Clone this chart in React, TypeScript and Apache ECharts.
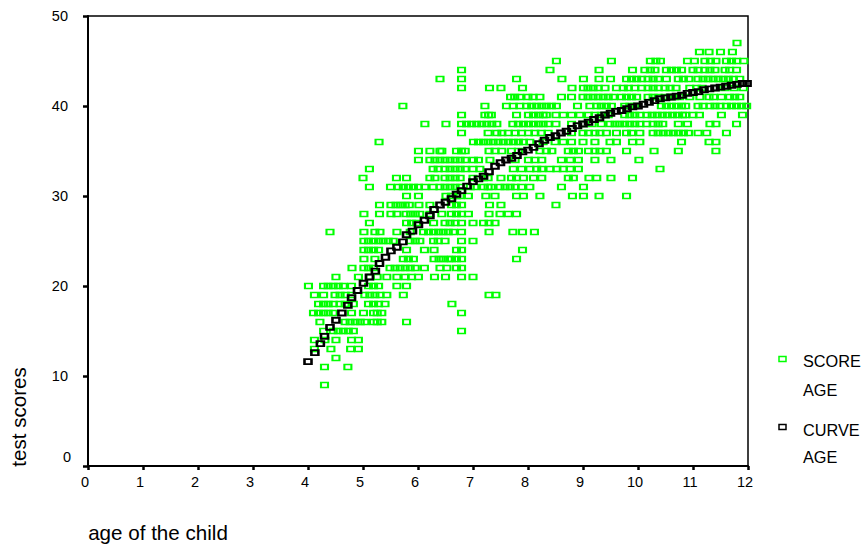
import React, { useEffect, useRef } from "react";
import * as echarts from "echarts";

// Ages in months for each integer test score
const s47 = [141.6];
const s46 = [133.4,135.5,138,140.6];
const s45 = [102.2,114.2,122.7,123.9,124.9,130.8,132.3,134.6,135.8,137,139.3,140.4,141.5,143.1];
const s44 = [81.5,100.8,111.5,118.8,121.5,122.7,123.7,126.2,127.3,128.4,129.5,132,133.1,134.6,135.7,136.8,139,140,141.5];
const s43 = [76.8,81.5,93.5,103.4,108.1,111.5,114,117.5,118.6,119.7,120.8,122.2,123.3,124.4,126.2,128.8,129.9,131.1,133.1,134.2,135.3,136.4,137.5,138.6,139.7,140.8,142.2];
const s42 = [81.5,87.6,90.1,94.8,105.6,108.1,109.1,110.2,111.3,112.8,115.3,116.8,117.9,119.3,120.8,122.2,123.3,124.4,125.9,127,128.3,131.3,132.8,134,137,139,141,143];
const s41 = [92.2,93.1,94.2,96,97.1,98.6,103.3,105.5,108,109.1,110.2,111.3,112.4,113.5,114.6,116.4,117.5,118.6,119.7,122.2,123.3,124.4,125.9,127,128,129.1,131.3,133.5,135.5,136.5,138.2,140,141.1,142.2];
const s40 = [68.7,86.6,91.3,92.8,94.2,95.7,96.8,97.9,99,100,101.1,102.2,106.8,109.5,111,112,113.1,114.2,117.1,118.2,119.3,125.1,126.2,127.3,128.4,129.5,130.4,133.1,134.2,135.7,136.8,137.9,139.3,140.4,141.5,142.6,143.7];
const s39 = [81.5,86.6,87.4,88,93.5,96.1,97.2,98.3,99.3,100,102.1,103.7,105.5,107.3,109.2,110.6,112,113.5,117.1,118.2,119.3,120.4,122,123.1,124.2,125.3,126.4,127.5,128.6,129.7,130.4,132,133.4,138.2,142.8];
const s38 = [73.5,78.1,81.5,82.6,83.7,84.8,85.9,87,88.1,89.2,92.7,93.9,95,96.1,97.2,98.3,99.3,100.4,102.1,105.5,108,110,112,113.9,115,116,117.1,118.2,119.3,120.4,121.9,123.3,124.4,125.4,128.8,130.8,135.7,137,141.5];
const s37 = [81.5,87.3,89.2,90.3,91.7,93.2,94.6,96.1,97.5,98.9,100.4,105.5,108,109.2,110.6,111.7,113.1,115.3,117.5,118.6,120.4,123.3,124.4,125.5,126.6,127.7,128.8,129.9,131,133.1,135,139.3];
const s36 = [63.5,84.1,85.2,86.3,87.3,88.4,89.5,90.6,91.7,92.8,93.9,95,96.4,99.3,101.9,103.7,105.5,108,110.6,113.9,115.3,118.8,120.4,129.5,135.5,137];
const s35 = [72.1,74.6,76.8,77.2,80.4,81.5,82.3,87.5,88.8,90.3,92.4,93.9,98.6,100,101.2,104.8,105.9,107,109.2,110.6,111.7,113.1,117.5,123.5,128.8,137];
const s34 = [72.1,74.6,75.7,76.8,77.9,79,80.1,81.2,82.3,84.1,85.2,87.7,93.2,96.1,97.5,99,103.3,105.2,107,110.6,114.1,120.2];
const s33 = [61.4,75.3,76.4,77.9,79,80.1,81.2,82.3,84,85.5,92.8,94.6,96.4,97.9,99,100.8,102.3,103.7,105.2,107,124.8];
const s32 = [60,67.3,69.5,74.6,75.7,77.9,79,80.1,81.2,84,86.3,87.3,90.1,92.4,93.5,95,97.2,99,104.8,105.9,109.3,111,114.1,118.8];
const s31 = [61.4,66,67.7,68.8,69.9,71,72.1,73.5,75.3,76.8,77.9,79,80.1,81.2,83.4,84.4,86.3,87.3,88,89.9,91,92.1,93.2,94.6,96.4,103.3,108.1];
const s30 = [69.5,72.1,78.1,79.3,80.4,81.2,83,86.8,88.8,93.5,95,98.6,105.7,108.1,111.5,117.5];
const s29 = [63.6,66.1,67.2,68.2,69.2,70.1,72.2,74.6,79.3,80.4,81.5,87.6,90.1,102.1];
const s28 = [60.2,63.6,66.1,67.4,69.4,70.4,71.4,72.4,74.6,77.2,79.3,80.4,81.5,83,87.5,89.9,91.7,93.5];
const s27 = [61.4,69.5,70.6,71.7,75.4,77.9,79,80.1,81.5,84,86.3,87.5,88.8];
const s26 = [52.8,60.2,62.6,63.7,67.4,70.3,73.2,74.3,75.4,76.5,77.5,78.6,79.7,81.5,87.5,92.7,94.8,97.4];
const s25 = [60.2,61.2,62.3,63.4,64.4,65.5,66.6,70.3,71.4,72.4,75.4,76.4,77.9,81.5,84];
const s24 = [60.2,61.2,62.3,63.4,69.5,73.4,75.5,80.4,81.5,94.8];
const s23 = [60.2,62.6,68.8,69.9,71,75.5,76.6,77.5,78.6,79.3,80.4,81.5,93.5];
const s22 = [57.6,60.2,61.2,62.3,65.9,67,68.1,69.2,70.3,71.4,73.4,76.8,78.3,80.4,81.5];
const s21 = [54.1,59,61.5,63.1,65.2,67.4,69.2,70.6,72.1,75.6,78,81.5,84];
const s20 = [48.1,51.4,52.4,53.5,54.6,55.7,57.5,61.2,62.3,63.4,67.4,69.5];
const s19 = [49.4,51.4,53.9,55,56.1,57.5,60.4,61.5,62.6,63.7,65.2,68.8,87.5,89];
const s18 = [50.3,51.4,52.4,53.5,55,56.1,57.9,61.2,62.3,63.4,64.8,79.4];
const s17 = [49.2,50.3,51.4,52.4,53.5,57.5,60.1,62.3,63.1,64.1,81.5];
const s16 = [50.6,56.1,57.2,58.3,59.4,60.4,62.3,63.1,64.1,69.5];
const s15 = [51.4,53.5,54.6,55.7,56.8,57.9,81.5];
const s14 = [49.4,51.7,54.1,57.5,59];
const s13 = [49.4,53,57.3,59];
const s12 = [54.1];
const s11 = [51.6,56.7];
const s9 = [51.6];

const scoreRows: [number, number[]][] = [
  [47,s47],[46,s46],[45,s45],[44,s44],[43,s43],[42,s42],[41,s41],[40,s40],[39,s39],[38,s38],
  [37,s37],[36,s36],[35,s35],[34,s34],[33,s33],[32,s32],[31,s31],[30,s30],[29,s29],[28,s28],
  [27,s27],[26,s26],[25,s25],[24,s24],[23,s23],[22,s22],[21,s21],[20,s20],[19,s19],[18,s18],
  [17,s17],[16,s16],[15,s15],[14,s14],[13,s13],[12,s12],[11,s11],[9,s9],
];

const curveMonths = [48,49.5,50.7,51.6,52.8,54.1,55.4,56.7,57.5,58.8,60.1,61.4,62.7,63.6,64.9,66.1,67.4,68.7,69.5,70.8,72.1,73.4,74.6,75.5,76.8,78,79.3,80.4,81.5,82.7,84,85.2,86.3,87.5,88.8,90,91.2,92.4,93.6,94.8,96,97.2,98.4,99.6,100.8,102,103.2,104.4,105.6,106.8,108,109.2,110.4,111.6,112.8,114,115.2,116.4,117.6,118.8,120,121.2,122.4,123.6,124.8,126,127.2,128.4,129.6,130.8,132,133.2,134.4,135.6,136.8,138,139.2,140.4,141.6,142.8,143.8];
const curveScores = [11.6,12.6,13.6,14.4,15.4,16.2,17,17.85,18.7,19.5,20.3,21,21.65,22.5,23.2,23.9,24.3,24.9,25.7,26.1,26.8,27.3,27.8,28.5,29,29.3,29.7,30.2,30.6,31.1,31.6,31.9,32.2,32.7,33.3,33.7,34,34.2,34.5,34.9,35.1,35.4,35.8,36.2,36.5,36.7,37,37.2,37.5,37.8,38,38.2,38.5,38.7,39,39.2,39.4,39.5,39.7,39.9,40,40.2,40.4,40.6,40.8,40.9,41,41.1,41.2,41.4,41.5,41.6,41.8,41.9,42,42.1,42.2,42.3,42.4,42.5,42.5];

const xTitle = "age of the child";
const yTitle = "test scores";
const legendScore = ["SCORE", "AGE"];
const legendCurve = ["CURVE", "AGE"];

const FONT = '"Liberation Sans", Arial, sans-serif';
const GREEN = "#00ff00";

export default function App() {
  const ref = useRef<HTMLDivElement>(null);
  useEffect(() => {
    document.body.style.margin = "0";
    const chart = echarts.init(ref.current!, null, { renderer: "svg" });
    const scorePts: number[][] = [];
    scoreRows.forEach(([s, ages]) => ages.forEach((m) => scorePts.push([m / 12, s])));
    const curvePts = curveMonths.map((m, i) => [m / 12, curveScores[i]]);
    const legendText = (y: number, text: string) => ({
      type: "text", x: 803, y,
      style: { text, fontFamily: FONT, fontSize: 16.3, fill: "#000", verticalAlign: "middle" },
    });
    chart.setOption({
      animation: false,
      grid: { left: 88, right: 116, top: 16, bottom: 78, show: true, borderColor: "#000", borderWidth: 1.5, backgroundColor: "transparent", outerBoundsMode: "none" },
      xAxis: {
        type: "value", min: 0, max: 12, interval: 1, splitLine: { show: false },
        axisLine: { show: true, lineStyle: { color: "#000", width: 2 } },
        axisTick: { show: true, length: 4, lineStyle: { color: "#000", width: 2.5 } },
        axisLabel: { color: "#000", fontFamily: FONT, fontSize: 14.5, margin: 8, padding: [0, 6, 0, 0], hideOverlap: false },
        name: xTitle, nameLocation: "middle", nameGap: 56,
        nameTextStyle: { color: "#000", fontFamily: FONT, fontSize: 20.6, padding: [0, 520, 0, 0] },
      },
      yAxis: {
        type: "value", min: 0, max: 50, interval: 10, splitLine: { show: false },
        axisLine: { show: true, lineStyle: { color: "#000", width: 2 } },
        axisTick: { show: true, length: 5, lineStyle: { color: "#000", width: 2.5 } },
        axisLabel: {
          color: "#000", fontFamily: FONT, fontSize: 14.5, margin: 17,
          formatter: (v: number) => (v === 0 ? "{z|0}" : `{n|${v}}`),
          rich: {
            z: { fontFamily: FONT, fontSize: 14.5, color: "#000", padding: [0, 0, 18, 0] },
            n: { fontFamily: FONT, fontSize: 14.5, color: "#000", padding: [0, 3, 0, 0] },
          },
        },
        name: yTitle, nameLocation: "middle", nameGap: 59, nameRotate: 90,
        nameTextStyle: { color: "#000", fontFamily: FONT, fontSize: 20.6, padding: [0, 352, 0, 0] },
      },
      series: [
        {
          name: "SCORE AGE", type: "scatter", data: scorePts, symbol: "rect", symbolSize: [7, 5],
          itemStyle: { color: "transparent", borderColor: GREEN, borderWidth: 1.8, opacity: 1 },
          clip: false, z: 2,
        },
        {
          name: "CURVE AGE", type: "scatter", data: curvePts, symbol: "rect", symbolSize: [7, 5],
          itemStyle: { color: "transparent", borderColor: "#000", borderWidth: 2.2, opacity: 1 },
          clip: false, z: 3,
        },
      ],
      graphic: [
        { type: "rect", shape: { x: 779, y: 356.5, width: 7, height: 5 }, style: { fill: "none", stroke: GREEN, lineWidth: 1.5 } },
        legendText(361, legendScore[0]),
        legendText(390, legendScore[1]),
        { type: "rect", shape: { x: 779, y: 424.5, width: 7, height: 5 }, style: { fill: "none", stroke: "#000", lineWidth: 1.5 } },
        legendText(430, legendCurve[0]),
        legendText(457, legendCurve[1]),
      ],
    });
    return () => chart.dispose();
  }, []);
  return <div ref={ref} style={{ width: 864, height: 544 }} />;
}
